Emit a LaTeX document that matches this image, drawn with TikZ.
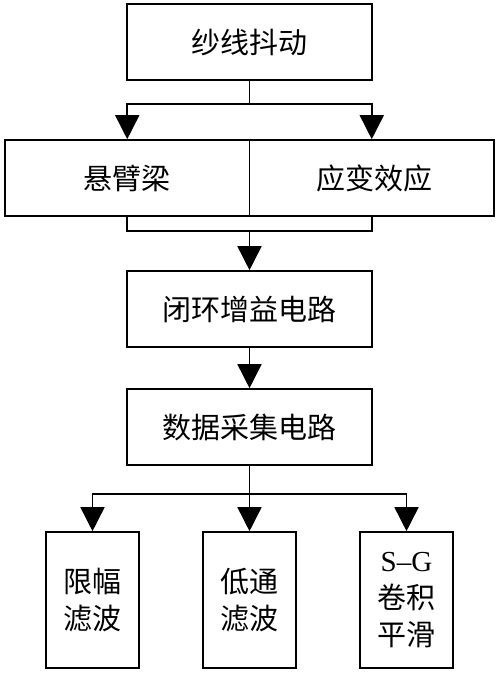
\documentclass[tikz,border=0pt]{standalone}
\usepackage{fontspec}
\setmainfont{Liberation Serif}
\newfontfamily\cjk{Noto Sans CJK SC}
\usetikzlibrary{arrows.meta}
\begin{document}
\begin{tikzpicture}[x=1pt, y=-1pt, >={Triangle[length=24pt, width=24pt]},
        stage/.style={draw, line width=1.6pt, align=center, inner sep=0pt, font=\cjk\fontsize{29}{37}\selectfont},
        widebox/.style={stage, minimum width=245pt, minimum height=76pt},
        filterbox/.style={stage, minimum width=93pt, minimum height=136pt},
        link/.style={line width=1.6pt}]
        \useasboundingbox (0,0) rectangle (500,674);
        \node[widebox] (yarn) at (249.5,42) {纱线抖动};
        \node[widebox, minimum width=244.5pt] (beam) at (127.25,178) {悬臂梁};
        \node[widebox, minimum width=244.5pt] (strain) at (371.75,178) {\hspace{6pt}应变效应};
        \node[widebox] (gain) at (249.5,309) {闭环增益电路};
        \node[widebox] (daq) at (249.5,427) {数据采集电路};
        \node[filterbox] (limit) at (92.5,600) {限幅\\滤波};
        \node[filterbox] (lowpass) at (249.5,600) {低通\\滤波};
        \node[filterbox] (sg) at (406.5,600) {{\rmfamily S–G}\\卷积\\平滑};
        % branch and merge points
        \coordinate (split1) at (249.5,104);
        \coordinate (merge) at (249.5,231);
        \coordinate (split2) at (249.5,494);
        \draw[link] (yarn.south) -- (split1);
        \draw[link, ->] (split1) -| (beam.north);
        \draw[link, ->] (split1) -| (strain.north);
        \draw[link] (beam.south) |- (merge) -| (strain.south);
        \draw[link, ->] (merge) -- (gain.north);
        \draw[link, ->] (gain.south) -- (daq.north);
        \draw[link] (daq.south) -- (split2);
        \draw[link, ->] (split2) -| (limit.north);
        \draw[link, ->] (split2) -- (lowpass.north);
        \draw[link, ->] (split2) -| (sg.north);
    \end{tikzpicture}
\end{document}
